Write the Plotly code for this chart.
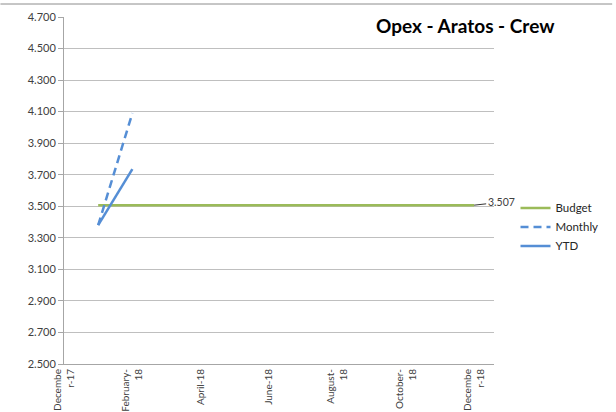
import plotly.graph_objects as go

# Months on the category/date axis (Dec-17 .. Dec-18)
months = ["Dec-17", "Jan-18", "Feb-18", "Mar-18", "Apr-18", "May-18", "Jun-18",
          "Jul-18", "Aug-18", "Sep-18", "Oct-18", "Nov-18", "Dec-18"]
month_idx = list(range(len(months)))

# Series
budget_months = months[1:]
budget_values = [3.507] * 12
monthly_months = ["Jan-18", "Feb-18"]
monthly_values = [3.38, 4.09]
ytd_months = ["Jan-18", "Feb-18"]
ytd_values = [3.38, 3.735]

# Tick labels shown every two months
tick_months = ["Dec-17", "Feb-18", "Apr-18", "Jun-18", "Aug-18", "Oct-18", "Dec-18"]
tick_text = ["Decembe<br>r-17", "February-<br>18", "April-18", "June-18",
             "August-<br>18", "October-<br>18", "Decembe<br>r-18"]
y_ticks = [2.5, 2.7, 2.9, 3.1, 3.3, 3.5, 3.7, 3.9, 4.1, 4.3, 4.5, 4.7]

pos = {m: i for m, i in zip(months, month_idx)}

GREEN = "#9BBB59"
BLUE = "#558ED5"
FONT = "Lato"

fig = go.Figure()
fig.add_trace(go.Scatter(x=[pos[m] for m in budget_months], y=budget_values,
                         mode="lines", name="Budget",
                         line=dict(color=GREEN, width=2.5)))
fig.add_trace(go.Scatter(x=[pos[m] for m in monthly_months], y=monthly_values,
                         mode="lines", name="Monthly",
                         line=dict(color=BLUE, width=2.5, dash="8px,5px")))
fig.add_trace(go.Scatter(x=[pos[m] for m in ytd_months], y=ytd_values,
                         mode="lines", name="YTD",
                         line=dict(color=BLUE, width=2.5)))

x_range = [0, 12.58]

fig.update_layout(
    width=616, height=412,
    margin=dict(l=64, r=119, t=17, b=48),
    paper_bgcolor="white", plot_bgcolor="white",
    font=dict(family=FONT, size=10, color="#404040"),
    showlegend=True,
    legend=dict(x=1.05, y=0.395, xanchor="left", yanchor="middle",
                font=dict(family=FONT, size=11.5, color="#262626"),
                itemwidth=30, tracegroupgap=0, bgcolor="rgba(0,0,0,0)"),
    xaxis=dict(range=x_range, tickmode="array", automargin=False,
               tickvals=[pos[m] for m in tick_months], ticktext=tick_text,
               tickangle=-90, ticks="", showgrid=False, zeroline=False,
               showline=True, linecolor="#A6A6A6", linewidth=1,
               tickfont=dict(family=FONT, size=10, color="#404040")),
    xaxis2=dict(range=x_range, overlaying="x", anchor="y", side="bottom",
                automargin=False,
                tickmode="array", tickvals=[1.5, 3.5, 5.5, 7.5, 9.5, 11.5],
                ticks="outside", ticklen=4, tickcolor="#A6A6A6",
                showticklabels=False, showgrid=False, zeroline=False,
                showline=False),
    yaxis=dict(range=[2.5, 4.7], tickmode="array", tickvals=y_ticks,
               automargin=False,
               ticktext=[f"{v:.3f}" for v in y_ticks],
               showgrid=True, gridcolor="#BFBFBF", gridwidth=1,
               zeroline=False, showline=True, linecolor="#A6A6A6", linewidth=1,
               ticks="outside", ticklen=5, tickcolor="#A6A6A6",
               tickfont=dict(family=FONT, size=11, color="#404040")),
    shapes=[dict(type="line", xref="paper", yref="paper",
                 x0=-64 / 433, x1=1 + 119 / 433, y0=1 + 13 / 347, y1=1 + 13 / 347,
                 line=dict(color="#8C8C8C", width=1))],
    annotations=[
        dict(text="<b>Opex - Aratos - Crew</b>", xref="paper", yref="paper",
             x=(468 - 64) / 433, y=1 + 5 / 347, xanchor="center", yanchor="top",
             showarrow=False, font=dict(family=FONT, size=19, color="#000000")),
        dict(text="3.507", x=pos[budget_months[-1]], y=budget_values[-1],
             xref="x", yref="y", showarrow=True, arrowhead=0, arrowwidth=0.8,
             arrowcolor="#000000", ax=27, ay=-3, standoff=0,
             font=dict(family=FONT, size=10.5, color="#404040")),
    ],
)

fig.write_html("out.html", config={"displayModeBar": False},
               post_script="document.body.style.margin='0';document.body.style.padding='0';")
